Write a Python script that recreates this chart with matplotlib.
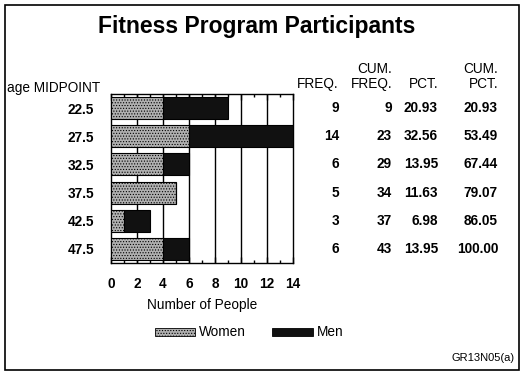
import matplotlib
matplotlib.use("Agg")
import matplotlib.pyplot as plt
import matplotlib.transforms as mtrans
from matplotlib.patches import Rectangle
import numpy as np

plt.rcParams['font.family'] = ['Liberation Sans', 'DejaVu Sans']
plt.rcParams['hatch.linewidth'] = 0.5
plt.rcParams['hatch.color'] = '#555555'

midpoints = ["22.5", "27.5", "32.5", "37.5", "42.5", "47.5"]
women = [4, 6, 4, 5, 1, 4]
men = [5, 8, 2, 0, 2, 2]
freq = ["9", "14", "6", "5", "3", "6"]
cum_freq = ["9", "23", "29", "34", "37", "43"]
pct = ["20.93", "32.56", "13.95", "11.63", "6.98", "13.95"]
cum_pct = ["20.93", "53.49", "67.44", "79.07", "86.05", "100.00"]
xticks = [0, 2, 4, 6, 8, 10, 12, 14]

W, H = 525, 379
fig = plt.figure(figsize=(W / 100, H / 100), dpi=100)
fig.patch.set_facecolor('white')

def fx(px):
    return px / W

def fy(py):
    return 1 - py / H

FS = 9.8

# outer frame
fig.patches.append(Rectangle((fx(5), fy(370)), fx(519) - fx(5), fy(5) - fy(370),
                             transform=fig.transFigure, fill=False, edgecolor='black', lw=1.2))

ax = fig.add_axes([fx(111), fy(263), fx(293) - fx(111), fy(94) - fy(263)])
y = np.arange(len(midpoints))
ax.barh(y, women, height=0.78, color='#b0b0b0', edgecolor='black', lw=0.8, hatch='......', zorder=3)
ax.barh(y, men, left=women, height=0.78, color='#111111', edgecolor='black', lw=0.8, zorder=3)
ax.set_xlim(0, 14)
ax.set_ylim(len(midpoints) - 0.5, -0.5)
ax.set_xticks(xticks)
ax.set_xticks(np.arange(1, 14, 2), minor=True)
ax.set_yticks(y)
ax.set_yticklabels(midpoints, fontsize=FS, fontweight='bold')
ax.tick_params(axis='y', length=0, pad=12)
ax.tick_params(axis='x', which='major', direction='in', length=4, top=True, labelsize=FS, pad=10, width=1)
ax.tick_params(axis='x', which='minor', direction='in', length=2.5, top=True, width=1)
for lbl in ax.get_xticklabels():
    lbl.set_fontweight('bold')
for xv in xticks[1:-1]:
    ax.axvline(xv, color='black', lw=1, zorder=1)
for s in ax.spines.values():
    s.set_linewidth(1)

# title
fig.text(fx(257), fy(27), "Fitness Program Participants", ha='center', va='center',
         fontsize=16.5, fontweight='bold')
fig.text(fx(7), fy(88), "age MIDPOINT", ha='left', va='center', fontsize=FS)

# table
cols = [(339, "", "FREQ.", freq), (392, "CUM.", "FREQ.", cum_freq),
        (438, "", "PCT.", pct), (498, "CUM.", "PCT.", cum_pct)]
blend = mtrans.blended_transform_factory(fig.transFigure, ax.transData)
for xp, h1, h2, vals in cols:
    if h1:
        fig.text(fx(xp), fy(69), h1, ha='right', va='center', fontsize=FS)
    fig.text(fx(xp), fy(84), h2, ha='right', va='center', fontsize=FS)
    for i, v in enumerate(vals):
        fig.text(fx(xp), i, v, transform=blend, ha='right', va='center', fontsize=FS, fontweight='bold')

# x axis label
fig.text(fx(202), fy(305), "Number of People", ha='center', va='center', fontsize=FS)

# legend
fig.patches.append(Rectangle((fx(155), fy(336)), fx(195) - fx(155), fy(328) - fy(336),
                             transform=fig.transFigure, facecolor='#b0b0b0', hatch='......',
                             edgecolor='black', lw=0.6))
fig.text(fx(199), fy(332), "Women", ha='left', va='center', fontsize=FS)
fig.patches.append(Rectangle((fx(272), fy(336)), fx(313) - fx(272), fy(328) - fy(336),
                             transform=fig.transFigure, facecolor='#111111',
                             edgecolor='black', lw=0.6))
fig.text(fx(317), fy(332), "Men", ha='left', va='center', fontsize=FS)

fig.text(fx(515), fy(358), "GR13N05(a)", ha='right', va='center', fontsize=8)

fig.savefig("out.png", dpi=100)
